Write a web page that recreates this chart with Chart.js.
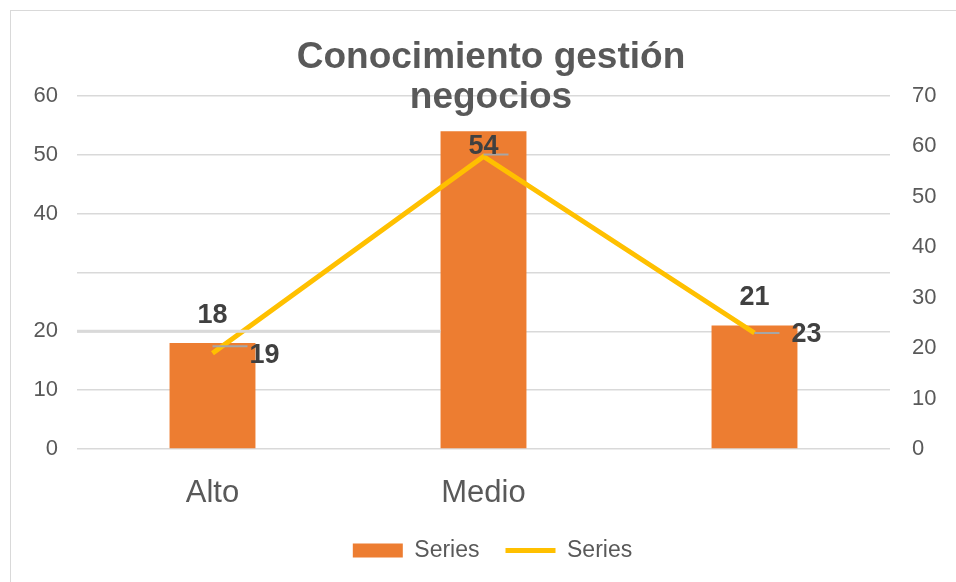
<!DOCTYPE html>
<html lang="es">
<head>
<meta charset="UTF-8">
<title>Conocimiento gestión negocios</title>
<script src="https://cdn.jsdelivr.net/npm/chart.js"></script>
<style>
  html, body { margin: 0; padding: 0; background: #fff; }
  body { width: 956px; height: 582px; position: relative; overflow: hidden; font-family: "Liberation Sans", Arial, sans-serif; }
  .frame { position: absolute; left: 10px; top: 10px; width: 960px; height: 600px; border: 1px solid #d9d9d9; box-sizing: border-box; }
  .wrap { position: absolute; left: 0; top: 0; width: 956px; height: 582px; }
  .title { position: absolute; left: 241px; width: 500px; top: 36px; text-align: center; font-weight: bold; font-size: 37px; line-height: 40px; color: #595959; pointer-events: none; }
</style>
</head>
<body>
<div class="frame"></div>
<div class="wrap"><canvas id="chart" width="956" height="582"></canvas></div>
<div class="title">Conocimiento gestión<br>negocios</div>
<script>
const categories = ['Alto', 'Medio', ''];
const countValues = [18, 54, 21];
const percentValues = [19, 58, 23];
const leftTicks = [0, 10, 20, 40, 50, 60];
const rightTicks = [0, 10, 20, 30, 40, 50, 60, 70];
const seriesNames = ['Series', 'Series'];

const orange = '#ED7D31';
const yellow = '#FFC000';
const grey = '#595959';
const labelDark = '#404040';
const fontFamily = '"Liberation Sans", Arial, sans-serif';

// data labels + leader lines, drawn by hand since there is no datalabels plugin
const labelPlugin = {
  id: 'labels',
  afterDatasetsDraw(chart) {
    const ctx = chart.ctx;
    const pts = chart.getDatasetMeta(0).data;
    const bars = chart.getDatasetMeta(1).data;
    const y = chart.scales.y;
    ctx.save();
    // heavier grid segment seen on the left half at 20
    const y20 = y.getPixelForValue(20);
    ctx.strokeStyle = '#d9d9d9';
    ctx.lineWidth = 3;
    ctx.beginPath();
    ctx.moveTo(chart.chartArea.left, y20);
    ctx.lineTo(bars[1].x - bars[1].width / 2, y20);
    ctx.stroke();
    // leader lines
    ctx.strokeStyle = '#a6a6a6';
    ctx.lineWidth = 2;
    pts.forEach((p, i) => {
      const ly = p.y - (i === 0 ? 7 : i === 1 ? 2 : 0);
      ctx.beginPath();
      ctx.moveTo(p.x, ly);
      ctx.lineTo(p.x + (i === 0 ? 35 : 25), ly);
      ctx.stroke();
    });
    ctx.font = 'bold 27px ' + fontFamily;
    ctx.fillStyle = labelDark;
    ctx.textAlign = 'center';
    ctx.textBaseline = 'middle';
    bars.forEach((b, i) => {
      const dy = i === 1 ? 15 : -28;
      ctx.fillText(String(countValues[i]), b.x, b.y + dy);
    });
    pts.forEach((p, i) => {
      if (i === 1) return;
      ctx.fillText(String(percentValues[i]), p.x + 52, p.y + 2);
    });
    ctx.restore();
  }
};

new Chart(document.getElementById('chart'), {
  data: {
    labels: categories,
    datasets: [
      {
        type: 'line',
        label: seriesNames[1],
        data: percentValues,
        yAxisID: 'y1',
        borderColor: yellow,
        backgroundColor: yellow,
        borderWidth: 5,
        pointRadius: 0,
        tension: 0,
        order: 1
      },
      {
        type: 'bar',
        label: seriesNames[0],
        data: countValues,
        yAxisID: 'y',
        backgroundColor: orange,
        barPercentage: 0.317,
        categoryPercentage: 1,
        order: 2
      }
    ]
  },
  options: {
    responsive: false,
    animation: false,
    layout: { padding: { top: 96, left: 33, right: 4, bottom: 10 } },
    plugins: {
      tooltip: { enabled: false },
      legend: {
        position: 'bottom',
        labels: {
          color: grey,
          font: { size: 23, family: fontFamily },
          boxWidth: 50,
          boxHeight: 14,
          padding: 26,
          usePointStyle: true,
          pointStyleWidth: 50,
          generateLabels: chart => [
            { text: seriesNames[0], fillStyle: orange, strokeStyle: orange, lineWidth: 0, pointStyle: 'rect', datasetIndex: 1, fontColor: grey },
            { text: seriesNames[1], fillStyle: yellow, strokeStyle: yellow, lineWidth: 5, pointStyle: 'line', datasetIndex: 0, fontColor: grey }
          ]
        }
      }
    },
    scales: {
      x: {
        grid: { display: false },
        border: { display: false },
        afterFit: axis => { axis.height = 64; },
        ticks: { color: grey, font: { size: 31, family: fontFamily, lineHeight: 0.3 }, padding: 32 }
      },
      y: {
        position: 'left',
        min: 0,
        max: 60,
        afterBuildTicks: axis => { axis.ticks = [0, 10, 20, 30, 40, 50, 60].map(v => ({ value: v })); },
        afterFit: axis => { axis.width = 44; },
        grid: { color: '#d9d9d9', lineWidth: 1.5, drawTicks: false },
        border: { display: false },
        ticks: {
          color: grey,
          font: { size: 22, family: fontFamily },
          padding: 19,
          callback: v => leftTicks.includes(v) ? String(v) : ''
        }
      },
      y1: {
        position: 'right',
        min: 0,
        max: 70,
        afterBuildTicks: axis => { axis.ticks = rightTicks.map(v => ({ value: v })); },
        afterFit: axis => { axis.width = 62; },
        grid: { display: false, drawTicks: false },
        border: { display: false },
        ticks: { color: grey, font: { size: 22, family: fontFamily }, padding: 22 }
      }
    }
  },
  plugins: [labelPlugin]
});
</script>
</body>
</html>
